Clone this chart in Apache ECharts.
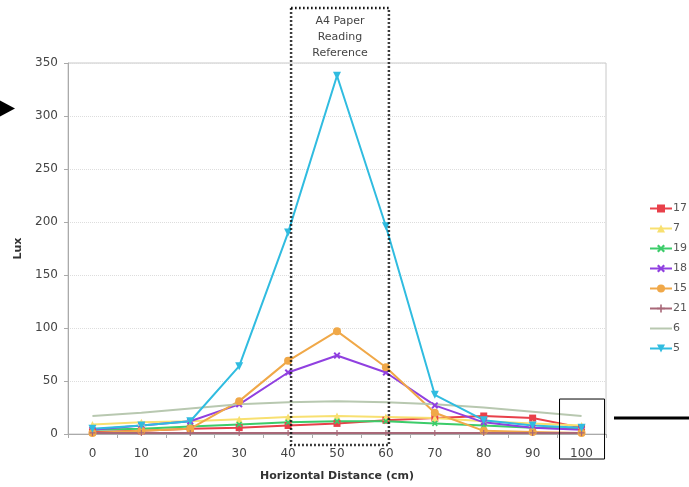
<!DOCTYPE html>
<html><head><meta charset="utf-8">
<script src="https://cdn.jsdelivr.net/npm/echarts@6/dist/echarts.min.js"></script>
<style>html,body{margin:0;padding:0;background:#fff}#c{width:689px;height:487px}</style>
</head><body><div id="c"></div>
<script>
const categories = ['0','10','20','30','40','50','60','70','80','90','100'];
const s17 = [2, 3, 5, 6, 8, 10, 13, 15, 17, 15, 6];
const s7  = [9, 11, 12, 14, 16, 17, 16, 15, 12, 10, 8];
const s19 = [4, 5, 7, 9, 11, 12, 12, 10, 8, 6, 5];
const s18 = [4, 8, 12, 28, 58, 74, 58, 27, 11, 6, 4];
const s15 = [1, 3, 5, 31, 69, 97, 63, 20, 3, 2, 1];
const s21 = [1, 1, 1, 1, 1, 1, 1, 1, 1, 1, 1];
const s6  = [17, 20, 24, 28, 30, 31, 30, 28, 25, 21, 17];
const s5  = [5, 8, 12, 64, 190, 338, 196, 37, 13, 8, 6];
const seriesNames = ['17','7','19','18','15','21','6','5'];
const yTicks = [0, 50, 100, 150, 200, 250, 300, 350];

const FONT = 'DejaVu Sans';
const xShape = 'path://M0,2 L2,0 L5,3 L8,0 L10,2 L7,5 L10,8 L8,10 L5,7 L2,10 L0,8 L3,5 Z';
const plusShape = 'path://M4,0 L6,0 L6,4 L10,4 L10,6 L6,6 L6,10 L4,10 L4,6 L0,6 L0,4 L4,4 Z';
function mk(name, data, color, symbol, size, extra) {
  return Object.assign({
    name, type: 'line', data,
    symbol, symbolSize: size,
    lineStyle: { color, width: 2 },
    itemStyle: { color, borderColor: color, borderWidth: 0 },
    emphasis: { disabled: true },
    animation: false
  }, extra || {});
}
const chart = echarts.init(document.getElementById('c'));
chart.setOption({
  animation: false,
  grid: { left: 68, right: 83, top: 63, bottom: 51, show: true, borderColor: '#c8c8c8', borderWidth: 1 },
  xAxis: {
    type: 'category', data: categories, boundaryGap: true,
    name: 'Horizontal Distance (cm)', nameLocation: 'middle', nameGap: 37,
    nameTextStyle: { fontFamily: FONT, fontWeight: 'bold', fontSize: 11, color: '#333' },
    axisLine: { lineStyle: { color: '#aaa' } },
    axisTick: { show: true, alignWithLabel: false, lineStyle: { color: '#aaa' }, length: 4 },
    axisLabel: { fontFamily: FONT, fontSize: 12, color: '#444', margin: 14 }
  },
  yAxis: {
    type: 'value', min: yTicks[0], max: yTicks[yTicks.length-1], interval: 50,
    name: 'Lux', nameLocation: 'middle', nameGap: 44,
    nameTextStyle: { fontFamily: FONT, fontWeight: 'bold', fontSize: 11, color: '#333' },
    axisLine: { show: true, lineStyle: { color: '#aaa' } },
    axisTick: { show: true, lineStyle: { color: '#aaa' }, length: 4 },
    axisLabel: { fontFamily: FONT, fontSize: 12, color: '#444', margin: 10 },
    splitLine: { lineStyle: { color: '#ddd', type: 'dotted' } }
  },
  legend: {
    orient: 'vertical', left: 644, top: 198, itemGap: 9, itemWidth: 22, itemHeight: 10,
    data: seriesNames.map(n => n === '6' ? { name: n, itemStyle: { opacity: 0 } } : n),
    textStyle: { fontFamily: FONT, fontSize: 11, color: '#555', padding: [0,0,0,-4] }
  },
  series: [
    mk('17', s17, '#e8404a', 'rect', 7),
    mk('7',  s7,  '#f8e070', 'triangle', 7),
    mk('19', s19, '#3ccc6a', xShape, 6),
    mk('18', s18, '#9040e0', xShape, 7),
    mk('15', s15, '#f0a848', 'circle', 8),
    mk('21', s21, '#a86878', plusShape, 6),
    mk('6',  s6,  '#b8c8b0', 'none', 0),
    mk('5',  s5,  '#30bce0', 'triangle', 8, { symbolRotate: 180 })
  ]
});
const xa = chart.convertToPixel({ xAxisIndex: 0 }, '40');
const xb = chart.convertToPixel({ xAxisIndex: 0 }, '60');
const y0 = chart.convertToPixel({ yAxisIndex: 0 }, 0);
const x100 = chart.convertToPixel({ xAxisIndex: 0 }, '100');
const yArrow = chart.convertToPixel({ yAxisIndex: 0 }, 307);
const yBoxTop = chart.convertToPixel({ yAxisIndex: 0 }, 33);
const yLine = chart.convertToPixel({ yAxisIndex: 0 }, 15);
chart.setOption({
  graphic: [
    { type: 'rect', silent: true, z: 100,
      shape: { x: xa + 3, y: 8, width: xb - xa, height: y0 + 11 - 8 },
      style: { fill: 'none', stroke: '#000', lineWidth: 2.5, lineDash: [1.5, 2.5] } },
    { type: 'text', silent: true, z: 100,
      style: { x: (xa + xb) / 2 + 3, y: 13, text: 'A4 Paper\nReading\nReference', align: 'center', verticalAlign: 'top',
        fontFamily: FONT, fontSize: 11, lineHeight: 16, fill: '#444' } },
    { type: 'polygon', silent: true, z: 100,
      shape: { points: [[0, yArrow - 8], [15, yArrow], [0, yArrow + 8]] },
      style: { fill: '#000' } },
    { type: 'rect', silent: true, z: 100,
      shape: { x: x100 - 22, y: yBoxTop, width: 45, height: 60 },
      style: { fill: 'none', stroke: '#000', lineWidth: 1 } },
    { type: 'line', silent: true, z: 100,
      shape: { x1: 614, y1: yLine, x2: 689, y2: yLine },
      style: { stroke: '#000', lineWidth: 3 } }
  ]
});
</script>
</body></html>
